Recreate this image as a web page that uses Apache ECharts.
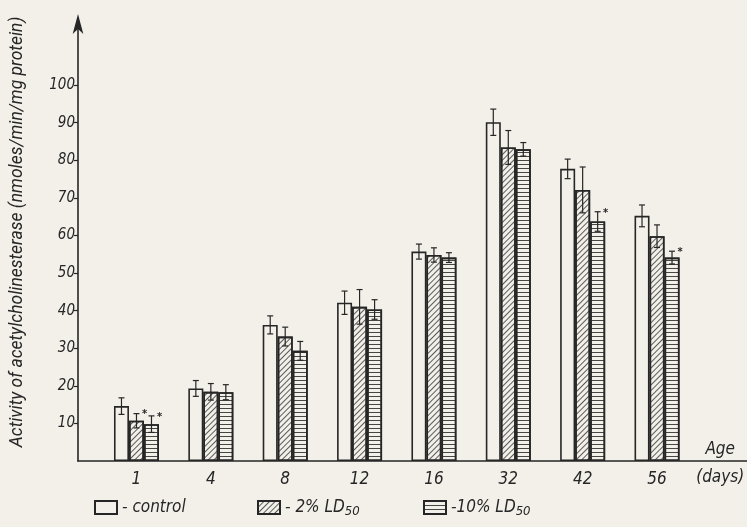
<!DOCTYPE html>
<html>
<head>
<meta charset="utf-8">
<script src="https://cdn.jsdelivr.net/npm/echarts@6/dist/echarts.min.js"></script>
<style>
  html, body { margin: 0; padding: 0; background: #f3f0ea; }
  #chart { width: 747px; height: 527px; }
</style>
</head>
<body>
<div id="chart"></div>
<script>
// ---- data ----
const categories = ['1', '4', '8', '12', '16', '32', '42', '56'];
const seriesNames = ['control', '2% LD50', '10% LD50'];
const control    = [14.6, 19.3, 36.2, 42.1, 55.7, 90.1, 77.7, 65.2];
const controlErr = [2.2, 2.1, 2.4, 3.1, 2.0, 3.5, 2.6, 2.9];
const ld2        = [10.7, 18.4, 33.1, 41.0, 54.8, 83.4, 72.1, 59.8];
const ld2Err     = [1.9, 2.2, 2.5, 4.6, 1.9, 4.5, 6.1, 3.0];
const ld10       = [9.8, 18.3, 29.3, 40.3, 54.1, 82.9, 63.7, 54.1];
const ld10Err    = [2.2, 2.0, 2.5, 2.6, 1.3, 1.8, 2.6, 1.7];
const controlStar = [0, 0, 0, 0, 0, 0, 0, 0];
const ld2Star     = [1, 0, 0, 0, 0, 0, 0, 0];
const ld10Star    = [1, 0, 0, 0, 0, 0, 1, 1];
const yTickValues = [10, 20, 30, 40, 50, 60, 70, 80, 90, 100];

// ---- styling ----
const INK = '#262626';
const BG = '#f3f0ea';
const FONT = '"Liberation Sans Narrow", "DejaVu Sans Condensed", Roboto, sans-serif';
const BAR_W = 15;

const values = [control, ld2, ld10];
const errs = [controlErr, ld2Err, ld10Err];
const stars = [controlStar, ld2Star, ld10Star];

const decals = [
  null,
  { symbol: 'rect', symbolSize: 1, color: 'rgba(40,40,40,0.75)', dashArrayX: [1, 0], dashArrayY: [1, 3], rotation: -Math.PI / 4 },
  { symbol: 'rect', symbolSize: 1, color: 'rgba(40,40,40,0.85)', dashArrayX: [1, 0], dashArrayY: [1, 2.6], rotation: 0 }
];

const barSeries = seriesNames.map((name, k) => ({
  name: name,
  type: 'bar',
  xAxisIndex: 0, yAxisIndex: 0,
  data: values[k],
  barWidth: BAR_W,
  barGap: '0%',
  itemStyle: Object.assign({ color: BG, borderColor: INK, borderWidth: 1.6 },
    decals[k] ? { decal: decals[k] } : {}),
  emphasis: { disabled: true },
  z: 2
}));

const errSeries = seriesNames.map((name, k) => ({
  name: name + ' err',
  type: 'custom',
  xAxisIndex: 0, yAxisIndex: 0,
  data: values[k].map((v, i) => [i, v, errs[k][i], stars[k][i]]),
  z: 5,
  silent: true,
  renderItem: function (params, api) {
    const i = api.value(0), v = api.value(1), e = api.value(2), s = api.value(3);
    const c = api.coord([i, v]);
    const x = c[0] + (k - 1) * BAR_W;
    const yt = api.coord([i, v + e])[1];
    const yb = api.coord([i, v - e])[1];
    const cap = 3;
    const st = { stroke: INK, lineWidth: 1.2 };
    const children = [
      { type: 'line', shape: { x1: x, y1: yt, x2: x, y2: yb }, style: st },
      { type: 'line', shape: { x1: x - cap, y1: yt, x2: x + cap, y2: yt }, style: st },
      { type: 'line', shape: { x1: x - cap, y1: yb, x2: x + cap, y2: yb }, style: st }
    ];
    if (s) {
      children.push({ type: 'text', style: { text: '*', x: x + 8, y: yt + 1, fill: INK,
        font: 'bold 11px ' + FONT, align: 'center', verticalAlign: 'middle' } });
    }
    return { type: 'group', children: children };
  }
}));

function legendFor(name, left) {
  return {
    data: [name],
    left: left, top: 494,
    icon: 'rect', itemWidth: 22, itemHeight: 13,
    selectedMode: false,
    formatter: function (n) {
      if (n === 'control') return '- control';
      if (n === '2% LD50') return '- 2% LD{sub|50}';
      return '-10% LD{sub|50}';
    },
    textStyle: {
      fontFamily: FONT, fontStyle: 'italic', fontSize: 17, color: INK,
      rich: { sub: { fontFamily: FONT, fontStyle: 'italic', fontSize: 13, color: INK, padding: [9, 0, 0, 0] } }
    }
  };
}

const nameRich = {
  a: { fontFamily: FONT, fontStyle: 'italic', fontSize: 17, color: INK, lineHeight: 34, align: 'center' },
  b: { fontFamily: FONT, fontStyle: 'italic', fontSize: 17, color: INK, lineHeight: 22, align: 'center' }
};

const option = {
  backgroundColor: BG,
  animation: false,
  legend: [legendFor('control', 89), legendFor('2% LD50', 252), legendFor('10% LD50', 418)],
  grid: [
    { left: 99.3, right: 52.8, top: 23, bottom: 66, outerBoundsMode: 'none', containLabel: false },
    { left: 78, right: 0, top: 23, bottom: 66, outerBoundsMode: 'none', containLabel: false }
  ],
  xAxis: [
    {
      type: 'category', gridIndex: 0, data: categories,
      axisLine: { show: false }, axisTick: { show: false },
      axisLabel: { margin: 10, fontFamily: FONT, fontStyle: 'italic', fontSize: 17, color: INK },
      name: '{a|Age}\n{b|(days)}', nameLocation: 'end', nameGap: 26,
      nameTextStyle: { fontFamily: FONT, fontStyle: 'italic', fontSize: 17, color: INK,
        align: 'center', verticalAlign: 'middle', rich: nameRich }
    },
    {
      type: 'value', gridIndex: 1, min: 0, max: 1,
      axisLine: { show: true, lineStyle: { color: INK, width: 1.6 } },
      axisTick: { show: false }, axisLabel: { show: false }, splitLine: { show: false }
    }
  ],
  yAxis: [
    {
      type: 'value', gridIndex: 0, min: 0, max: 116.5, offset: 21.3,
      axisLine: { show: true, symbol: ['none', 'arrow'], symbolSize: [8, 20], symbolOffset: [0, 9],
        lineStyle: { color: INK, width: 1.6 } },
      axisTick: { show: true, length: 4, lineStyle: { color: INK, width: 1.2 }, customValues: yTickValues },
      axisLabel: { margin: 3, fontFamily: FONT, fontStyle: 'italic', fontSize: 15, color: INK, customValues: yTickValues },
      splitLine: { show: false },
      name: 'Activity of acetylcholinesterase (nmoles/min/mg protein)',
      nameLocation: 'middle', nameGap: 51,
      nameTextStyle: { fontFamily: 'Roboto', fontStyle: 'italic', fontSize: 17.5, color: INK, padding: [0, 0, 0, 20] }
    },
    { type: 'value', gridIndex: 1, show: false, min: 0, max: 1 }
  ],
  series: barSeries.concat(errSeries)
};

const chart = echarts.init(document.getElementById('chart'), null, { renderer: 'canvas' });
chart.setOption(option);
</script>
</body>
</html>
